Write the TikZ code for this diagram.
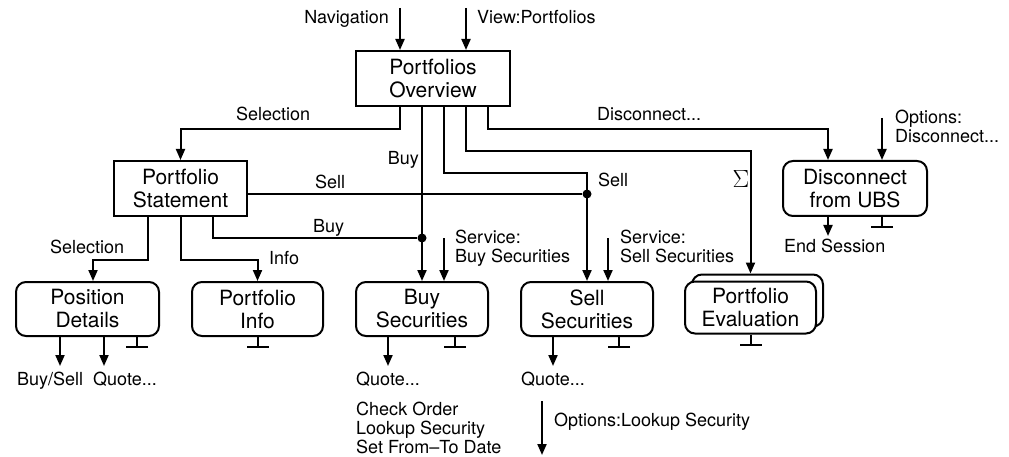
\documentclass[tikz,border=0pt]{standalone}
\usepackage{fontspec}
\setmainfont{TeX Gyre Heros}
\usetikzlibrary{arrows.meta}
\tikzstyle{box} = [draw=black, line width=2pt, inner sep=0pt, align=center, minimum height=55pt, fill=white, font=\fontsize{21}{23}\selectfont]
\tikzstyle{rbox} = [box, rounded corners=10pt, minimum height=54pt]
\tikzstyle{lbl} = [inner sep=0pt, align=left, font=\fontsize{18}{19}\selectfont]
\tikzstyle{wire} = [line width=2pt]
\tikzstyle{arrow} = [line width=2pt, -{Triangle[length=11pt,width=9pt]}]
\tikzstyle{term} = [line width=2pt, -{Bar[width=22pt]}]
\tikzstyle{joint} = [circle, fill=black, inner sep=0pt, minimum size=9pt]

\begin{document}
\begin{tikzpicture}[x=1pt, y=-1pt]
    \useasboundingbox (0,0) rectangle (1009,457);

    \node [box, minimum width=154pt] (over) at (433,78.5) {Portfolios\\Overview};
    \node [box, minimum width=133pt] (stmt) at (180.5,188.5) {Portfolio\\Statement};
    \node [rbox, minimum width=144pt, minimum height=55pt] (disc) at (855,188.5) {Disconnect\\from UBS};
    \node [rbox, minimum width=143pt] (posdet) at (87.5,309) {Position\\Details};
    \node [rbox, minimum width=131pt] (pinfo) at (257.5,309) {Portfolio\\Info};
    \node [rbox, minimum width=132pt] (buysec) at (422,309) {Buy\\Securities};
    \node [rbox, minimum width=132pt] (sellsec) at (587,309) {Sell\\Securities};
    \node [rbox, minimum width=131pt, minimum height=52pt] (evalback) at (757.5,300.5) {};
    \node [rbox, minimum width=131pt, minimum height=52pt] (evalsec) at (750.5,307.5) {Portfolio\\Evaluation};

    \node [joint] (bdot) at (422,238) {};
    \node [joint] (sdot) at (587,194) {};

    \coordinate (nav) at (400,8);
    \coordinate (view) at (466,8);
    \coordinate (bsvc) at (444,238);
    \coordinate (ssvc) at (608,238);
    \coordinate (optd) at (882,118);
    \coordinate (lookup) at (542,401);

    \draw [arrow] (nav) -- (nav |- over.north);
    \draw [arrow] (view) -- (view |- over.north);
    \draw [arrow] ([xshift=-33pt]over.south) -- ++(0,22) -| (stmt.north);
    \draw [arrow] ([xshift=-11pt]over.south) -- (buysec.north);
    \draw [arrow] ([xshift=11pt]over.south) -- ++(0,66) -| (sellsec.north);
    \draw [arrow] ([xshift=33pt]over.south) -- ++(0,44) -| (evalsec.north |- evalback.north);
    \draw [arrow] ([xshift=55pt]over.south) -- ++(0,22) -| ([xshift=-27pt]disc.north);

    \draw [wire] (stmt.east |- sdot) -- (sdot);
    \draw [wire] ([xshift=32.5pt]stmt.south) |- (bdot);
    \draw [arrow] ([xshift=-32.5pt]stmt.south) -- ++(0,43) -| ([xshift=5.5pt]posdet.north);
    \draw [arrow] (stmt.south) -- ++(0,43) -| (pinfo.north);

    \draw [arrow] (bsvc) -- (bsvc |- buysec.north);
    \draw [arrow] (ssvc) -- (ssvc |- sellsec.north);
    \draw [arrow] (optd) -- (optd |- disc.north);

    \draw [arrow] ([xshift=-27pt]disc.south) -- ++(0,19);
    \draw [term] ([xshift=27pt]disc.south) -- ++(0,11);
    \draw [arrow] ([xshift=-27.5pt]posdet.south) -- ++(0,29);
    \draw [arrow] ([xshift=16.5pt]posdet.south) -- ++(0,29);
    \draw [term] ([xshift=49.5pt]posdet.south) -- ++(0,11);
    \draw [term] (pinfo.south) -- ++(0,11);
    \draw [arrow] ([xshift=-34pt]buysec.south) -- ++(0,29);
    \draw [term] ([xshift=33pt]buysec.south) -- ++(0,11);
    \draw [arrow] ([xshift=-34pt]sellsec.south) -- ++(0,29);
    \draw [term] ([xshift=32pt]sellsec.south) -- ++(0,11);
    \draw [term] (evalsec.south) -- ++(0,11);
    \draw [arrow] (lookup) -- ++(0,54);

    \node [lbl, anchor=base east] (lnav) at (389,24) {Navigation};
    \node [lbl, anchor=base west] (lview) at (477,24) {View:Portfolios};
    \node [lbl, anchor=base west] (lsel) at (236,121) {Selection};
    \node [lbl, anchor=base west] (ldisc) at (597,121) {Disconnect...};
    \node [lbl, anchor=base west] (lopt) at (895,143) {Options:\\Disconnect...};
    \node [lbl, anchor=base east] (lbuy) at (419,165) {Buy};
    \node [lbl, anchor=base west] (lssell) at (315,189) {Sell};
    \node [lbl, anchor=base west] (lsell) at (598,187) {Sell};
    \node [lbl, anchor=base, font=\fontsize{24}{24}\selectfont] (lsum) at (741,188) {$\Sigma$};
    \node [lbl, anchor=base west] (lend) at (784,252) {End Session};
    \node [lbl, anchor=base west] (lsbuy) at (313,233) {Buy};
    \node [lbl, anchor=base west] (lbsvc) at (455,262) {Service:\\Buy Securities};
    \node [lbl, anchor=base west] (lssvc) at (620,262) {Service:\\Sell Securities};
    \node [lbl, anchor=base west] (lssel) at (50,253) {Selection};
    \node [lbl, anchor=base west] (linfo) at (269,264) {Info};
    \node [lbl, anchor=base west] (lbs) at (17,385) {Buy/Sell};
    \node [lbl, anchor=base west] (lpq) at (93,385) {Quote...};
    \node [lbl, anchor=base west] (lbq) at (356,385) {Quote...};
    \node [lbl, anchor=base west] (lsq) at (521,385) {Quote...};
    \node [lbl, anchor=base west] (lcheck) at (356,453) {Check Order\\Lookup Security\\Set From–To Date};
    \node [lbl, anchor=base west] (llookup) at (554,426) {Options:Lookup Security};
\end{tikzpicture}
\end{document}
